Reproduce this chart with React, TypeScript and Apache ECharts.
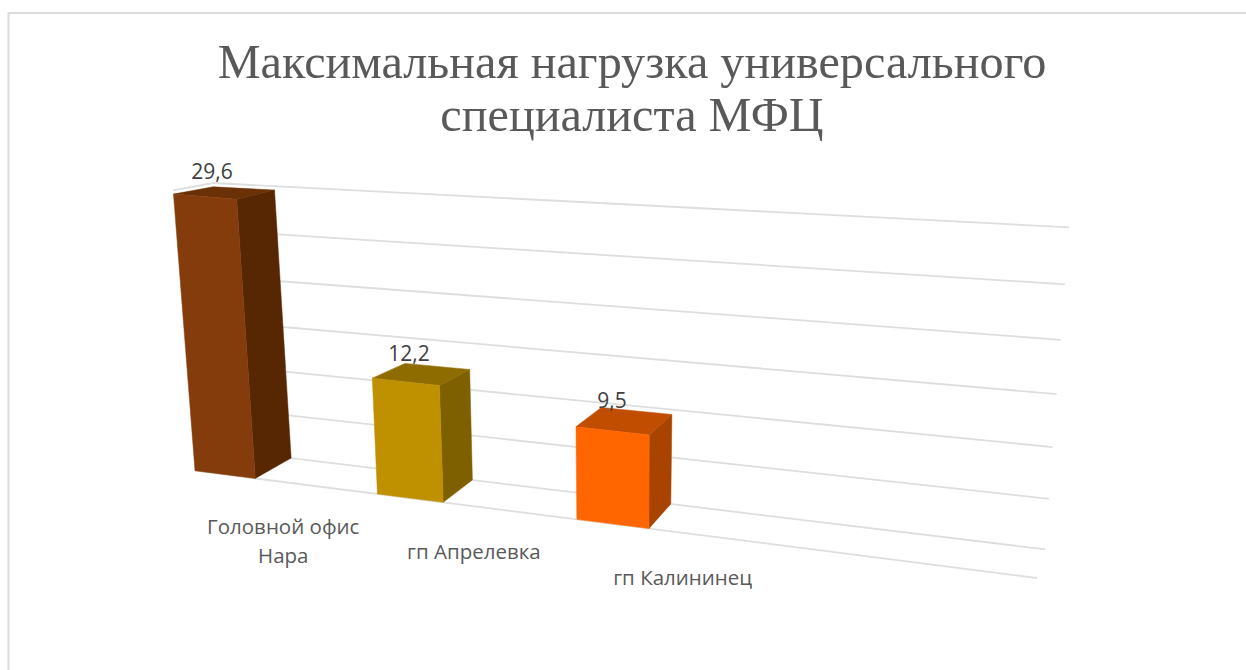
import React, { useEffect, useRef } from "react";
import * as echarts from "echarts";

const titleText = "Максимальная нагрузка универсального\nспециалиста МФЦ";
const categories = ["Головной офис\nНара", "гп Апрелевка", "гп Калининец"];
const values = [29.6, 12.2, 9.5];
const valueLabels = ["29,6", "12,2", "9,5"];
const frontColors = ["#843C0C", "#BF9000", "#FF6600"];
const sideColors = ["#572703", "#7F6000", "#A84300"];
const topColors = ["#6A3006", "#8F6C00", "#C04D00"];
const gridValues = [0, 5, 10, 15, 20, 25, 30];

const SLOTS = 4;
const BAR_SHARE = 0.34;
const V_MAX = 30;
const KU = 1.205;
const KV_FRONT = 1.02;
const KV_BACK = 1.075;
// Projected corners of the chart box: [left-bottom, right-bottom, left-top, right-top]
const FRONT = [[195, 470.7], [1037, 578], [173.2, 190.3], [1057, 262]];
const BACK = [[233, 451], [1045, 549.3], [213, 183], [1069, 227.3]];

const warp = (t: number, k: number) => t / (t + k * (1 - t));

function project(u: number, v: number, w: number) {
  const uu = warp(u, KU);
  const vv = warp(v, w ? KV_BACK : KV_FRONT);
  const c = w ? BACK : FRONT;
  const bot = [c[0][0] + uu * (c[1][0] - c[0][0]), c[0][1] + uu * (c[1][1] - c[0][1])];
  const top = [c[2][0] + uu * (c[3][0] - c[2][0]), c[2][1] + uu * (c[3][1] - c[2][1])];
  return [bot[0] + vv * (top[0] - bot[0]), bot[1] + vv * (top[1] - bot[1])];
}

export default function App() {
  const ref = useRef<HTMLDivElement>(null);
  useEffect(() => {
    const chart = echarts.init(ref.current!, undefined, { renderer: "svg" });
    // Turns a data point into unit-box fractions through the hidden axes.
    const unit = (api: any, params: any, slot: number, value: number) => {
      const p = api.coord([slot, value]);
      const g = params.coordSys;
      return [(p[0] - g.x) / g.width, 1 - (p[1] - g.y) / g.height];
    };
    const lineStyle = { stroke: "#DEDEDE", lineWidth: 1.8, fill: "none" };
    chart.setOption({
      animation: false,
      backgroundColor: "#FFFFFF",
      title: {
        text: titleText, left: 627, top: 30, textAlign: "center",
        textStyle: { fontFamily: "Liberation Serif", fontSize: 48.2, lineHeight: 53, fontWeight: "normal", color: "#595959" },
      },
      graphic: [
        {
          type: "rect", silent: true, z: 0,
          shape: { x: 8.5, y: 13, width: 1400, height: 800 },
          style: { fill: "none", stroke: "#DCDCDC", lineWidth: 2 },
        },
      ],
      grid: { left: 0, top: 0, right: 0, bottom: 0, show: false },
      xAxis: { type: "value", min: 0, max: SLOTS, show: false },
      yAxis: { type: "value", min: 0, max: V_MAX, show: false },
      series: [
        {
          type: "custom", silent: true, z: 2, clip: false,
          data: gridValues.map((v) => [v]),
          renderItem: (params: any, api: any) => {
            const [, v] = unit(api, params, 0, api.value(0));
            const line = (a: number[], b: number[]) => ({
              type: "line",
              shape: { x1: a[0], y1: a[1], x2: b[0], y2: b[1] },
              style: lineStyle,
            });
            const children = [
              line(project(0, v, 1), project(1, v, 1)),
              line(project(0, v, 0), project(0, v, 1)),
            ];
            if (api.value(0) === 0) children.push(line(project(0, 0, 0), project(1, 0, 0)));
            return { type: "group", children };
          },
        },
        {
          type: "custom", silent: true, z: 3, clip: false,
          data: values.map((v, i) => [i, v]),
          renderItem: (params: any, api: any) => {
            const i = api.value(0);
            const [u0, v] = unit(api, params, i, api.value(1));
            const [u1] = unit(api, params, i + BAR_SHARE, api.value(1));
            const poly = (pts: number[][], fill: string) => ({
              type: "polygon", shape: { points: pts }, style: { fill, stroke: fill, lineWidth: 0.5 },
            });
            const fbl = project(u0, 0, 0), fbr = project(u1, 0, 0);
            const ftl = project(u0, v, 0), ftr = project(u1, v, 0);
            const bbr = project(u1, 0, 1);
            const btl = project(u0, v, 1), btr = project(u1, v, 1);
            const cx = (ftl[0] + btr[0]) / 2, cy = (ftl[1] + btr[1]) / 2;
            const [uMid] = unit(api, params, i + 0.5, 0);
            const foot = project(uMid, 0, 0);
            return {
              type: "group",
              children: [
                poly([fbr, bbr, btr, ftr], sideColors[i]),
                poly([ftl, btl, btr, ftr], topColors[i]),
                poly([fbl, fbr, ftr, ftl], frontColors[i]),
                {
                  type: "text",
                  style: {
                    x: cx - 12, y: cy - 21, text: valueLabels[i], align: "center", verticalAlign: "middle",
                    fontFamily: "Open Sans", fontSize: 21, fill: "#404040",
                  },
                },
                {
                  type: "text",
                  style: {
                    x: foot[0] - 1, y: foot[1] + 30, text: categories[i], align: "center", verticalAlign: "top",
                    fontFamily: "Open Sans", fontSize: 20.5, lineHeight: 28.5, fill: "#595959",
                  },
                },
              ],
            };
          },
        },
      ],
    });
    return () => chart.dispose();
  }, []);
  return <div ref={ref} style={{ position: "absolute", left: 0, top: 0, width: 1246, height: 670 }} />;
}
